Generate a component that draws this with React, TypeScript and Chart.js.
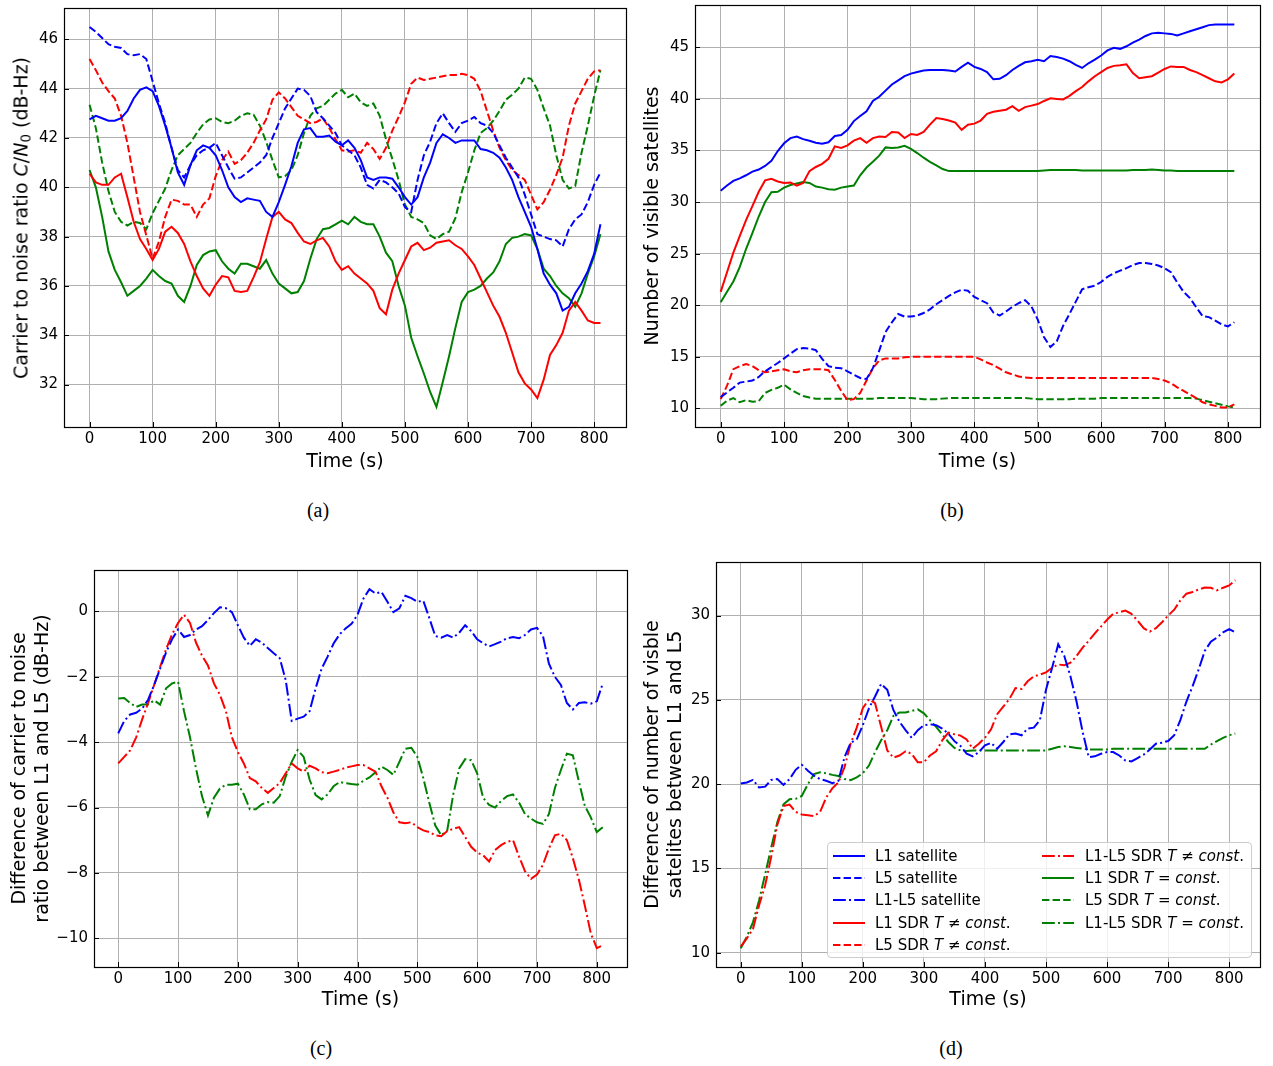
import React, { useEffect, useRef } from 'react';
import { Chart, registerables } from 'chart.js';

Chart.register(...registerables);
Chart.defaults.font.family = "'DejaVu Sans', sans-serif";
Chart.defaults.color = '#000';

// ---------- data ----------
const TIME = [0,10,20,30,40,50,60,70,80,90,100,110,120,130,140,150,160,170,180,190,200,210,220,230,240,250,260,270,280,290,300,310,320,330,340,350,360,370,380,390,400,410,420,430,440,450,460,470,480,490,500,510,520,530,540,550,560,570,580,590,600,610,620,630,640,650,660,670,680,690,700,710,720,730,740,750,760,770,780,790,800,810];

const X_TICKS = [0,100,200,300,400,500,600,700,800];
const X_TICK_LABELS = ['0','100','200','300','400','500','600','700','800'];

// (a) carrier to noise ratio
const A_Y_TICKS = [32,34,36,38,40,42,44,46];
const A_Y_TICK_LABELS = ['32','34','36','38','40','42','44','46'];
const A_L1_SAT = [42.75,42.9,42.8,42.7,42.7,42.8,43.1,43.6,43.95,44.05,43.9,43.3,42.5,41.6,40.6,40.1,40.9,41.5,41.7,41.6,41.3,40.7,40.0,39.6,39.4,39.55,39.5,39.45,39.0,38.8,39.4,40.1,40.85,41.8,42.35,42.4,42.05,42.05,42.1,41.85,41.7,41.9,41.6,41.1,40.4,40.3,40.4,40.4,40.35,40.0,39.6,39.3,39.6,40.4,41.0,41.8,42.15,42.0,41.8,41.9,41.9,41.9,41.55,41.5,41.4,41.2,40.8,40.3,39.6,39.0,38.4,37.5,36.5,36.05,35.7,35.0,35.15,35.7,36.1,36.6,37.3,38.5];
const A_L5_SAT = [46.5,46.3,46.05,45.8,45.7,45.65,45.4,45.35,45.4,45.2,44.3,43.4,42.6,41.6,40.7,40.4,40.9,41.3,41.5,41.6,41.8,41.3,40.8,40.35,40.4,40.6,40.8,41.0,41.3,42.0,42.6,43.2,43.6,44.0,43.95,43.7,43.05,42.8,42.5,42.2,41.7,41.5,41.3,40.8,40.1,39.95,40.3,40.2,40.0,39.75,39.2,39.0,40.3,41.3,41.85,42.6,43.0,42.6,42.25,42.6,42.7,42.85,42.6,42.5,42.2,41.7,41.2,40.8,40.4,39.7,38.9,38.1,38.0,37.9,37.85,37.6,38.3,38.7,38.9,39.4,40.1,40.6];
const A_L1_SDR_VAR = [40.55,40.2,40.1,40.1,40.4,40.55,39.6,38.6,37.9,37.5,37.05,37.5,38.2,38.4,38.15,37.7,37.0,36.4,35.9,35.6,36.05,36.4,36.35,35.8,35.75,35.8,36.35,36.95,37.9,38.8,39.0,38.7,38.55,38.15,37.8,37.7,37.85,37.95,37.6,37.0,36.65,36.8,36.5,36.3,36.1,35.8,35.1,34.85,35.85,36.5,37.05,37.6,37.75,37.45,37.55,37.75,37.8,37.85,37.65,37.5,37.2,36.85,36.3,35.75,35.2,34.75,34.1,33.3,32.5,32.05,31.8,31.45,32.2,33.2,33.6,34.1,35.0,35.35,35.0,34.6,34.5,34.5];
const A_L5_SDR_VAR = [45.2,44.75,44.25,43.9,43.6,42.9,41.8,40.4,39.0,38.05,37.1,37.8,38.8,39.5,39.45,39.3,39.3,38.8,39.3,39.55,40.45,41.1,41.45,40.95,41.1,41.4,41.8,42.3,42.75,43.55,43.85,43.6,43.25,42.9,42.75,42.6,42.65,42.8,42.4,41.95,41.5,41.45,41.5,41.4,41.8,41.55,41.15,41.6,42.3,42.85,43.45,44.2,44.45,44.35,44.4,44.45,44.5,44.55,44.55,44.6,44.55,44.4,43.9,43.1,42.3,41.6,41.1,40.7,40.5,40.3,39.7,39.1,39.4,39.9,40.5,41.2,42.5,43.4,43.9,44.4,44.7,44.75];
const A_L1_SDR_CONST = [40.7,40.0,38.8,37.4,36.65,36.15,35.6,35.8,36.0,36.3,36.65,36.4,36.2,36.1,35.6,35.35,36.0,36.85,37.25,37.4,37.45,37.0,36.7,36.5,36.9,36.9,36.8,36.7,37.05,36.5,36.1,35.9,35.7,35.75,36.2,37.1,37.9,38.3,38.35,38.5,38.65,38.5,38.8,38.6,38.5,38.5,38.0,37.35,37.0,36.0,35.2,33.9,33.15,32.45,31.7,31.1,32.1,33.15,34.3,35.35,35.75,35.85,36.0,36.3,36.55,37.0,37.7,37.95,38.0,38.1,38.05,37.5,36.7,36.4,36.0,35.7,35.5,35.15,35.7,36.5,37.2,38.1];
const A_L5_SDR_CONST = [43.35,42.4,41.0,39.85,39.0,38.6,38.45,38.6,38.55,38.3,38.95,39.45,39.95,40.7,41.3,41.55,41.8,42.2,42.55,42.75,42.8,42.65,42.6,42.7,42.9,43.0,42.95,42.5,41.85,41.1,40.4,40.45,40.7,41.3,42.2,42.9,43.2,43.3,43.55,43.8,43.95,43.65,43.8,43.45,43.3,43.4,42.9,41.95,41.15,40.3,39.3,38.8,38.7,38.55,38.05,37.9,38.1,38.2,38.75,39.8,40.6,41.5,42.2,42.4,42.7,43.1,43.55,43.75,44.0,44.45,44.4,43.95,43.2,42.5,41.3,40.3,39.95,40.05,41.4,42.5,43.7,44.75];

// (b) number of visible satellites
const B_Y_TICKS = [10,15,20,25,30,35,40,45];
const B_Y_TICK_LABELS = ['10','15','20','25','30','35','40','45'];
const B_L1_SAT = [31.1,31.6,32.05,32.3,32.6,32.95,33.15,33.5,34.0,34.95,35.7,36.2,36.35,36.1,35.95,35.75,35.65,35.8,36.4,36.5,37.0,37.85,38.35,38.8,39.8,40.2,40.8,41.4,41.8,42.2,42.45,42.6,42.75,42.8,42.8,42.8,42.75,42.65,43.1,43.5,43.1,42.9,42.6,41.9,41.95,42.3,42.8,43.2,43.55,43.65,43.8,43.65,44.15,44.05,43.9,43.65,43.3,43.0,43.45,43.8,44.2,44.7,44.95,44.85,45.1,45.45,45.75,46.1,46.35,46.4,46.35,46.3,46.15,46.35,46.55,46.75,46.95,47.15,47.2,47.2,47.2,47.2];
const B_L5_SAT = [11.1,11.55,12.0,12.5,12.6,12.7,13.05,13.6,14.0,14.4,14.85,15.3,15.75,15.85,15.8,15.65,14.8,14.1,13.95,13.9,13.6,13.25,12.95,12.85,13.9,15.6,17.4,18.35,19.15,18.9,18.9,19.0,19.25,19.6,20.1,20.5,20.9,21.25,21.5,21.4,20.8,20.5,20.2,19.3,19.0,19.4,19.85,20.2,20.5,19.9,18.6,16.9,15.95,16.5,18.0,19.15,20.35,21.55,21.75,21.9,22.25,22.75,23.1,23.35,23.6,23.9,24.1,24.1,24.0,23.85,23.6,23.2,22.2,21.3,20.7,19.8,18.95,18.85,18.5,18.15,17.95,18.35];
const B_L1_SDR_VAR = [21.3,23.2,25.1,26.7,28.25,29.6,31.0,32.1,32.25,32.0,31.85,31.9,31.6,31.85,33.0,33.4,33.7,34.2,35.4,35.25,35.5,35.95,36.2,35.75,36.2,36.35,36.3,36.8,36.75,36.2,36.6,36.5,36.8,37.5,38.15,38.05,37.9,37.7,37.0,37.5,37.6,37.9,38.55,38.75,38.85,38.95,39.3,38.85,39.2,39.35,39.5,39.8,40.05,40.0,39.95,40.3,40.75,41.15,41.7,42.2,42.6,43.0,43.2,43.25,43.35,42.5,42.0,42.1,42.2,42.55,42.9,43.15,43.1,43.1,42.8,42.6,42.3,42.0,41.7,41.6,41.9,42.45];
const B_L5_SDR_VAR = [10.9,12.2,13.8,14.1,14.3,14.1,13.7,13.5,13.6,13.7,13.8,13.6,13.5,13.7,13.8,13.8,13.8,13.7,12.75,11.7,10.8,10.9,11.5,12.7,13.9,14.65,14.85,14.85,14.85,14.95,15.0,15.0,15.0,15.0,15.0,15.0,15.0,15.0,15.0,15.0,15.0,14.75,14.45,14.2,13.85,13.5,13.3,13.1,13.0,12.95,12.95,12.95,12.95,12.95,12.95,12.95,12.95,12.95,12.95,12.95,12.95,12.95,12.95,12.95,12.95,12.95,12.95,12.95,12.95,12.85,12.7,12.45,12.05,11.7,11.35,11.0,10.6,10.4,10.25,10.1,10.1,10.4];
const B_L1_SDR_CONST = [20.3,21.3,22.3,23.7,25.45,27.0,28.6,30.0,30.95,31.0,31.4,31.65,31.8,31.95,31.85,31.5,31.4,31.25,31.2,31.4,31.5,31.6,32.6,33.35,33.9,34.5,35.3,35.25,35.3,35.45,35.15,34.75,34.3,33.9,33.55,33.2,33.0,33.0,33.0,33.0,33.0,33.0,33.0,33.0,33.0,33.0,33.0,33.0,33.0,33.0,33.0,33.05,33.1,33.1,33.1,33.1,33.1,33.05,33.05,33.05,33.05,33.05,33.05,33.05,33.05,33.1,33.1,33.1,33.15,33.1,33.05,33.05,33.0,33.0,33.0,33.0,33.0,33.0,33.0,33.0,33.0,33.0];
const B_L5_SDR_CONST = [10.25,10.75,11.0,10.6,10.8,10.65,10.7,11.5,11.8,12.0,12.3,11.85,11.5,11.2,11.05,10.95,10.95,10.95,10.95,10.95,10.95,10.95,10.95,10.95,10.95,11.0,11.0,11.0,11.0,11.0,11.0,10.95,10.9,10.9,10.9,10.95,11.0,11.0,11.0,11.0,11.0,11.0,11.0,11.0,11.0,11.0,11.0,11.0,11.0,10.95,10.9,10.9,10.9,10.9,10.9,10.9,10.95,10.95,10.95,10.95,11.0,11.0,11.0,11.0,11.0,11.0,11.0,11.0,11.0,11.0,11.0,11.0,11.0,11.0,11.0,10.95,10.8,10.65,10.5,10.35,10.2,10.1];

// (c) difference of carrier to noise ratio between L1 and L5
const C_Y_TICKS = [-10,-8,-6,-4,-2,0];
const C_Y_TICK_LABELS = ['\u221210','\u22128','\u22126','\u22124','\u22122','0'];
const C_DIFF_SAT = [-3.73,-3.35,-3.15,-3.1,-2.97,-2.7,-2.25,-1.75,-1.25,-0.85,-0.55,-0.78,-0.72,-0.55,-0.45,-0.26,-0.05,0.13,0.1,-0.02,-0.42,-0.8,-1.05,-0.85,-0.95,-1.12,-1.28,-1.43,-2.1,-3.35,-3.28,-3.22,-3.05,-2.35,-1.75,-1.38,-0.98,-0.7,-0.52,-0.38,-0.1,0.4,0.68,0.55,0.6,0.3,-0.02,0.1,0.48,0.41,0.3,0.33,-0.2,-0.75,-0.8,-0.72,-0.8,-0.65,-0.42,-0.6,-0.85,-0.97,-1.07,-1.0,-0.92,-0.82,-0.78,-0.82,-0.72,-0.55,-0.5,-0.75,-1.6,-2.0,-2.25,-2.8,-3.0,-2.8,-2.78,-2.82,-2.75,-2.2];
const C_DIFF_SDR_VAR = [-4.65,-4.45,-4.25,-3.85,-3.3,-2.8,-2.25,-1.7,-1.15,-0.7,-0.35,-0.1,-0.35,-0.95,-1.35,-1.65,-2.2,-2.55,-3.05,-3.85,-4.3,-4.65,-5.1,-5.2,-5.4,-5.55,-5.4,-5.25,-4.95,-4.65,-4.8,-4.9,-4.72,-4.8,-4.92,-4.95,-4.9,-4.85,-4.78,-4.74,-4.7,-4.7,-4.8,-4.9,-5.35,-5.7,-6.15,-6.45,-6.48,-6.45,-6.6,-6.7,-6.75,-6.85,-6.88,-6.72,-6.65,-6.6,-6.9,-7.2,-7.38,-7.46,-7.65,-7.3,-7.15,-7.05,-7.0,-7.5,-7.95,-8.18,-8.05,-7.75,-7.25,-6.85,-6.8,-7.0,-7.55,-8.2,-9.0,-9.85,-10.3,-10.22];
const C_DIFF_SDR_CONST = [-2.66,-2.65,-2.8,-2.92,-2.85,-2.85,-2.72,-2.85,-2.35,-2.2,-2.15,-3.05,-3.85,-4.8,-5.65,-6.24,-5.7,-5.42,-5.3,-5.3,-5.27,-5.6,-6.05,-6.05,-5.9,-5.83,-5.85,-5.65,-5.05,-4.6,-4.24,-4.45,-5.15,-5.62,-5.75,-5.6,-5.35,-5.22,-5.25,-5.28,-5.3,-5.18,-5.08,-4.92,-4.75,-4.85,-5.0,-4.6,-4.2,-4.17,-4.45,-5.1,-5.85,-6.55,-6.85,-6.7,-5.6,-4.8,-4.52,-4.55,-4.95,-5.7,-5.92,-6.0,-5.8,-5.65,-5.6,-5.85,-6.2,-6.34,-6.45,-6.5,-6.2,-5.4,-4.85,-4.35,-4.4,-5.2,-5.95,-6.3,-6.75,-6.6];

// (d) difference of number of visible satellites between L1 and L5
const D_Y_TICKS = [10,15,20,25,30];
const D_Y_TICK_LABELS = ['10','15','20','25','30'];
const D_DIFF_SAT = [20.04,20.1,20.25,19.8,19.85,20.25,20.3,19.95,20.3,20.85,21.15,20.8,20.5,20.3,20.2,20.05,20.2,21.6,22.45,22.66,23.5,24.5,25.2,25.95,25.6,24.4,23.7,23.2,22.75,23.2,23.5,23.55,23.5,23.3,23.0,22.55,22.26,21.8,21.65,21.9,22.3,22.45,22.1,22.5,22.95,23.0,22.9,23.3,23.35,23.8,25.6,26.9,28.3,27.6,26.4,24.9,23.1,21.6,21.65,21.8,21.9,21.9,21.7,21.4,21.35,21.55,21.75,22.05,22.4,22.46,22.56,22.9,23.8,24.9,25.8,26.8,27.9,28.45,28.7,29.0,29.2,29.0];
const D_DIFF_SDR_VAR = [10.36,10.85,11.4,12.8,14.0,15.7,17.6,18.7,18.79,18.35,18.2,18.15,18.1,18.35,19.2,19.75,20.1,21.0,22.4,23.35,24.5,25.04,24.8,23.4,22.0,21.57,21.7,21.95,21.8,21.3,21.3,21.7,21.95,22.6,23.06,22.96,22.88,22.65,22.1,22.4,22.75,23.25,24.15,24.6,25.05,25.7,25.65,26.1,26.4,26.5,26.63,26.9,27.1,27.05,27.2,27.6,28.1,28.5,28.95,29.35,29.75,30.1,30.2,30.3,30.1,29.7,29.25,29.05,29.25,29.6,30.0,30.35,30.9,31.3,31.4,31.55,31.67,31.65,31.5,31.65,31.79,32.1];
const D_DIFF_SDR_CONST = [10.26,10.95,11.8,13.1,14.65,16.25,17.75,18.8,19.1,19.13,19.3,20.0,20.6,20.7,20.65,20.55,20.48,20.3,20.24,20.4,20.65,21.1,21.9,22.6,23.2,24.05,24.25,24.25,24.35,24.44,24.2,23.8,23.4,22.95,22.5,22.15,22.0,21.96,22.0,22.0,22.0,22.0,22.0,22.0,22.0,22.0,22.0,22.0,22.0,22.0,22.0,22.1,22.2,22.25,22.2,22.15,22.1,22.05,22.05,22.05,22.05,22.1,22.1,22.1,22.1,22.1,22.1,22.1,22.1,22.1,22.1,22.1,22.1,22.1,22.1,22.1,22.1,22.35,22.55,22.75,22.9,23.0];

// ---------- styles ----------
const BLUE = '#0000ff';
const RED = '#ff0000';
const GREEN = '#008000';
const SOLID: number[] = [];
const DASHED = [7.4, 3.2];
const DASHDOT = [12.8, 3.2, 2, 3.2];

type Series = { label: string; values: number[]; color: string; dash: number[] };

const mplPlugin = {
  id: 'mplFrame',
  beforeDatasetsDraw(chart: any) {
    const { ctx, chartArea: a, scales } = chart;
    ctx.save();
    ctx.strokeStyle = '#000';
    ctx.lineWidth = 1;
    ctx.beginPath();
    for (const t of scales.x.ticks) {
      const px = Math.round(scales.x.getPixelForValue(t.value)) + 0.5;
      ctx.moveTo(px, a.bottom);
      ctx.lineTo(px, a.bottom - 5);
    }
    for (const t of scales.y.ticks) {
      const py = Math.round(scales.y.getPixelForValue(t.value)) + 0.5;
      ctx.moveTo(a.left, py);
      ctx.lineTo(a.left + 5, py);
    }
    ctx.stroke();
    ctx.restore();
  },
  afterDatasetsDraw(chart: any) {
    const { ctx, chartArea: a } = chart;
    ctx.save();
    ctx.strokeStyle = '#000';
    ctx.lineWidth = 1.2;
    ctx.strokeRect(Math.round(a.left) + 0.5, Math.round(a.top) + 0.5, Math.round(a.right - a.left), Math.round(a.bottom - a.top));
    ctx.restore();
  },
};

type PanelProps = {
  left: number; top: number; width: number; height: number;
  area: { left: number; top: number; right: number; bottom: number };
  series: Series[];
  yMin: number; yMax: number; yTicks: number[]; yTickLabels: string[];
  yTitle: string | string[] | null; yTitlePad: number; xTitlePad: number;
};

function Panel(p: PanelProps) {
  const ref = useRef<HTMLCanvasElement>(null);
  useEffect(() => {
    if (!ref.current) return;
    const yW = p.area.left;
    const xH = p.height - p.area.bottom;
    const chart = new Chart(ref.current, {
      type: 'line',
      data: {
        datasets: p.series.map((s) => ({
          label: s.label,
          data: TIME.map((t, i) => ({ x: t, y: s.values[i] })),
          borderColor: s.color,
          backgroundColor: s.color,
          borderDash: s.dash,
          borderWidth: 2,
          pointRadius: 0,
          tension: 0,
          fill: false,
        })),
      },
      options: {
        responsive: false,
        animation: false,
        events: [],
        layout: { padding: { left: 0, top: p.area.top, right: p.width - p.area.right, bottom: 0 } },
        plugins: { legend: { display: false }, tooltip: { enabled: false } },
        scales: {
          x: {
            type: 'linear',
            min: -40.5,
            max: 850.5,
            afterBuildTicks: (s: any) => { s.ticks = X_TICKS.map((v) => ({ value: v })); },
            afterFit: (s: any) => { s.height = xH; s.paddingLeft = 0; s.paddingRight = 0; s.paddingTop = 0; s.paddingBottom = 0; },
            grid: { color: '#b0b0b0', lineWidth: 1, drawTicks: false },
            border: { display: false },
            ticks: {
              padding: 3, color: '#000', font: { size: 15 }, maxRotation: 0, autoSkip: false,
              callback: (v: any) => { const i = X_TICKS.indexOf(Number(v)); return i >= 0 ? X_TICK_LABELS[i] : ''; },
            },
            title: { display: true, text: 'Time (s)', color: '#000', font: { size: 19 }, padding: { top: 0, bottom: p.xTitlePad } },
          },
          y: {
            type: 'linear',
            min: p.yMin,
            max: p.yMax,
            afterBuildTicks: (s: any) => { s.ticks = p.yTicks.map((v) => ({ value: v })); },
            afterFit: (s: any) => { s.width = yW; s.paddingLeft = 0; s.paddingRight = 0; s.paddingTop = 0; s.paddingBottom = 0; },
            grid: { color: '#b0b0b0', lineWidth: 1, drawTicks: false },
            border: { display: false },
            ticks: {
              padding: 6, color: '#000', font: { size: 15 }, autoSkip: false,
              callback: (v: any) => { const i = p.yTicks.indexOf(Number(v)); return i >= 0 ? p.yTickLabels[i] : ''; },
            },
            title: {
              display: p.yTitle !== null,
              text: p.yTitle ?? '',
              color: '#000',
              font: { size: 19 },
              padding: { top: p.yTitlePad, bottom: 0 },
            },
          },
        },
      } as any,
      plugins: [mplPlugin],
    });
    return () => chart.destroy();
  }, []);
  return (
    <canvas
      ref={ref}
      width={p.width}
      height={p.height}
      style={{ position: 'absolute', left: p.left, top: p.top, width: p.width, height: p.height }}
    />
  );
}

const captionStyle = (cx: number, cy: number): React.CSSProperties => ({
  position: 'absolute', left: cx, top: cy, transform: 'translate(-50%, -50%)',
  fontFamily: "'Liberation Serif', 'Times New Roman', serif", fontSize: 20, lineHeight: 1, color: '#000', whiteSpace: 'nowrap',
});

function LegendSample({ color, dash }: { color: string; dash: number[] }) {
  return (
    <svg width={32} height={6} style={{ display: 'block' }}>
      <line x1={0} y1={3} x2={32} y2={3} stroke={color} strokeWidth={2} strokeDasharray={dash.length ? dash.join(' ') : undefined} />
    </svg>
  );
}

const Tneq = () => (<><i>T</i> &#8800; <i>const</i>.</>);
const Teq = () => (<><i>T</i> = <i>const</i>.</>);

const LEGEND_COL1 = [
  { color: BLUE, dash: SOLID, text: <>L1 satellite</> },
  { color: BLUE, dash: DASHED, text: <>L5 satellite</> },
  { color: BLUE, dash: DASHDOT, text: <>L1-L5 satellite</> },
  { color: RED, dash: SOLID, text: <>L1 SDR <Tneq /></> },
  { color: RED, dash: DASHED, text: <>L5 SDR <Tneq /></> },
];
const LEGEND_COL2 = [
  { color: RED, dash: DASHDOT, text: <>L1-L5 SDR <Tneq /></> },
  { color: GREEN, dash: SOLID, text: <>L1 SDR <Teq /></> },
  { color: GREEN, dash: DASHED, text: <>L5 SDR <Teq /></> },
  { color: GREEN, dash: DASHDOT, text: <>L1-L5 SDR <Teq /></> },
];

function Legend() {
  const rowY = [13, 35, 57, 79.5, 101.5];
  const item = (e: any, i: number, sx: number, tx: number) => (
    <React.Fragment key={`${sx}-${i}`}>
      <div style={{ position: 'absolute', left: sx, top: rowY[i] - 3 }}>
        <LegendSample color={e.color} dash={e.dash} />
      </div>
      <div style={{ position: 'absolute', left: tx, top: rowY[i] - 9, height: 18, lineHeight: '18px', whiteSpace: 'nowrap' }}>{e.text}</div>
    </React.Fragment>
  );
  return (
    <div style={{
      position: 'absolute', left: 827, top: 842, width: 425, height: 116, boxSizing: 'border-box',
      border: '1px solid #cccccc', borderRadius: 4, background: 'rgba(255,255,255,0.8)',
      fontFamily: "'DejaVu Sans', sans-serif", fontSize: 15, color: '#000',
    }}>
      {LEGEND_COL1.map((e, i) => item(e, i, 5, 47))}
      {LEGEND_COL2.map((e, i) => item(e, i, 214, 257))}
    </div>
  );
}

export default function App() {
  const seriesA: Series[] = [
    { label: 'L1 satellite', values: A_L1_SAT, color: BLUE, dash: SOLID },
    { label: 'L5 satellite', values: A_L5_SAT, color: BLUE, dash: DASHED },
    { label: 'L1 SDR T≠const.', values: A_L1_SDR_VAR, color: RED, dash: SOLID },
    { label: 'L5 SDR T≠const.', values: A_L5_SDR_VAR, color: RED, dash: DASHED },
    { label: 'L1 SDR T=const.', values: A_L1_SDR_CONST, color: GREEN, dash: SOLID },
    { label: 'L5 SDR T=const.', values: A_L5_SDR_CONST, color: GREEN, dash: DASHED },
  ];
  const seriesB: Series[] = [
    { label: 'L1 satellite', values: B_L1_SAT, color: BLUE, dash: SOLID },
    { label: 'L5 satellite', values: B_L5_SAT, color: BLUE, dash: DASHED },
    { label: 'L1 SDR T≠const.', values: B_L1_SDR_VAR, color: RED, dash: SOLID },
    { label: 'L5 SDR T≠const.', values: B_L5_SDR_VAR, color: RED, dash: DASHED },
    { label: 'L1 SDR T=const.', values: B_L1_SDR_CONST, color: GREEN, dash: SOLID },
    { label: 'L5 SDR T=const.', values: B_L5_SDR_CONST, color: GREEN, dash: DASHED },
  ];
  const seriesC: Series[] = [
    { label: 'L1-L5 satellite', values: C_DIFF_SAT, color: BLUE, dash: DASHDOT },
    { label: 'L1-L5 SDR T≠const.', values: C_DIFF_SDR_VAR, color: RED, dash: DASHDOT },
    { label: 'L1-L5 SDR T=const.', values: C_DIFF_SDR_CONST, color: GREEN, dash: DASHDOT },
  ];
  const seriesD: Series[] = [
    { label: 'L1-L5 satellite', values: D_DIFF_SAT, color: BLUE, dash: DASHDOT },
    { label: 'L1-L5 SDR T≠const.', values: D_DIFF_SDR_VAR, color: RED, dash: DASHDOT },
    { label: 'L1-L5 SDR T=const.', values: D_DIFF_SDR_CONST, color: GREEN, dash: DASHDOT },
  ];

  return (
    <div style={{ position: 'absolute', left: 0, top: 0, width: 1273, height: 1066, background: '#fff', overflow: 'hidden' }}>
      <Panel left={0} top={0} width={640} height={480}
        area={{ left: 64, top: 8, right: 626, bottom: 427 }}
        series={seriesA} yMin={30.28} yMax={47.27} yTicks={A_Y_TICKS} yTickLabels={A_Y_TICK_LABELS}
        yTitle={null} yTitlePad={0} xTitlePad={6.6} />
      <div style={{
        position: 'absolute', left: 21, top: 217.5, transform: 'translate(-50%, -50%) rotate(-90deg)',
        whiteSpace: 'nowrap', fontFamily: "'DejaVu Sans', sans-serif", fontSize: 19, lineHeight: 1, color: '#000',
      }}>
        Carrier to noise ratio <i>C</i>/<i>N</i><sub style={{ fontSize: '0.7em', lineHeight: 0, verticalAlign: '-0.25em' }}>0</sub> (dB-Hz)
      </div>

      <Panel left={640} top={0} width={633} height={480}
        area={{ left: 55, top: 5, right: 620, bottom: 427 }}
        series={seriesB} yMin={8.2} yMax={49.1} yTicks={B_Y_TICKS} yTickLabels={B_Y_TICK_LABELS}
        yTitle={'Number of visible satellites'} yTitlePad={1.6} xTitlePad={6.6} />

      <Panel left={0} top={540} width={640} height={480}
        area={{ left: 94, top: 30, right: 627, bottom: 427 }}
        series={seriesC} yMin={-10.88} yMax={1.27} yTicks={C_Y_TICKS} yTickLabels={C_Y_TICK_LABELS}
        yTitle={['Difference of carrier to noise', 'ratio between L1 and L5 (dB-Hz)']} yTitlePad={8.6} xTitlePad={8.6} />

      <Panel left={640} top={540} width={633} height={480}
        area={{ left: 76, top: 22, right: 620, bottom: 427 }}
        series={seriesD} yMin={9.15} yMax={33.18} yTicks={D_Y_TICKS} yTickLabels={D_Y_TICK_LABELS}
        yTitle={['Difference of number of visble', 'satelites between L1 and L5']} yTitlePad={1.6} xTitlePad={8.6} />
      <Legend />

      <div style={captionStyle(318, 510)}>(a)</div>
      <div style={captionStyle(952, 510)}>(b)</div>
      <div style={captionStyle(321, 1048)}>(c)</div>
      <div style={captionStyle(951, 1048)}>(d)</div>
    </div>
  );
}
